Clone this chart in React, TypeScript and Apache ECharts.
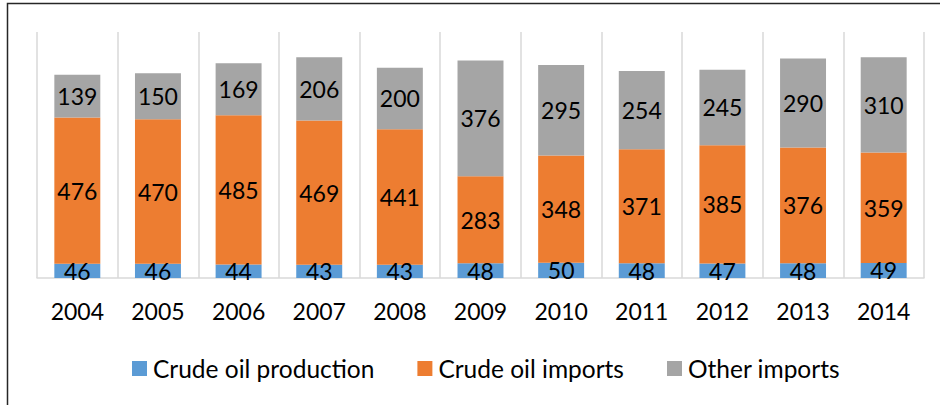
import React, { useEffect, useRef } from "react";
import * as echarts from "echarts";

const years = ["2004", "2005", "2006", "2007", "2008", "2009", "2010", "2011", "2012", "2013", "2014"];
const crudeProduction = [46, 46, 44, 43, 43, 48, 50, 48, 47, 48, 49];
const crudeImports = [476, 470, 485, 469, 441, 283, 348, 371, 385, 376, 359];
const otherImports = [139, 150, 169, 206, 200, 376, 295, 254, 245, 290, 310];

const FONT = "Lato, 'Open Sans', sans-serif";

export default function App() {
  const ref = useRef<HTMLDivElement>(null);
  useEffect(() => {
    if (!ref.current) return;
    const chart = echarts.init(ref.current, null, { renderer: "svg" });
    const label = {
      show: true,
      position: "inside",
      color: "#000",
      fontSize: 23,
      fontFamily: FONT,
    };
    const mk = (name: string, data: number[], color: string) => ({
      name,
      type: "bar",
      stack: "total",
      data,
      barCategoryGap: "43%",
      itemStyle: { color },
      label,
    });
    chart.setOption({
      animation: false,
      backgroundColor: "#fff",
      textStyle: { fontFamily: FONT },
      graphic: [
        {
          type: "rect",
          shape: { x: 7.5, y: 3.5, width: 1000, height: 600 },
          style: { fill: "none", stroke: "#262626", lineWidth: 1.5 },
          silent: true,
          z: 100,
        },
      ],
      grid: { left: 37, right: 16, top: 32, bottom: 127, containLabel: false },
      xAxis: {
        type: "category",
        data: years,
        boundaryGap: true,
        axisLine: { show: true, lineStyle: { color: "#d9d9d9", width: 1.5 } },
        axisTick: { show: false },
        axisLabel: { color: "#000", fontSize: 23, fontFamily: FONT, margin: 21, interval: 0 },
        splitLine: { show: true, interval: 0, lineStyle: { color: "#d9d9d9", width: 1.5 } },
      },
      yAxis: {
        type: "value",
        min: 0,
        max: 800,
        show: false,
        splitLine: { show: false },
      },
      legend: {
        data: ["Crude oil production", "Crude oil imports", "Other imports"],
        top: 351,
        left: 127,
        itemWidth: 15,
        itemHeight: 15,
        itemGap: 43,
        icon: "rect",
        textStyle: { color: "#000", fontSize: 24.5, fontFamily: FONT, padding: [0, 0, 0, 1] },
      },
      series: [
        mk("Crude oil production", crudeProduction, "#5B9BD5"),
        mk("Crude oil imports", crudeImports, "#ED7D31"),
        mk("Other imports", otherImports, "#A5A5A5"),
      ],
    });
    return () => chart.dispose();
  }, []);
  return (
    <div
      ref={ref}
      style={{ position: "fixed", left: 0, top: 0, width: 940, height: 405 }}
    />
  );
}
